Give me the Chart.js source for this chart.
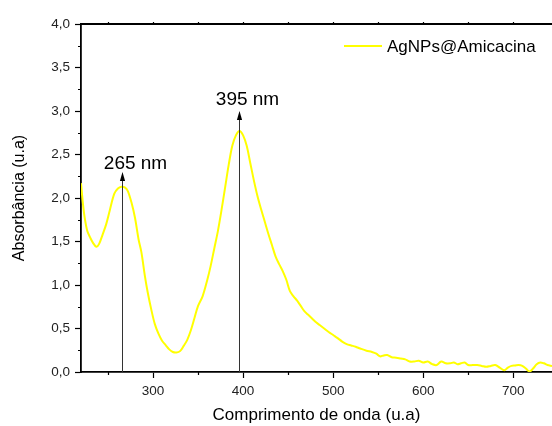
<!DOCTYPE html>
<html>
<head>
<meta charset="utf-8">
<script src="https://cdn.jsdelivr.net/npm/chart.js@4"></script>
<style>
  body { margin: 0; background: #fff; }
  #wrap { width: 552px; height: 426px; }
</style>
</head>
<body>
<div id="wrap"><canvas id="myChart" width="552" height="426"></canvas></div>
<script>
// spectrum (nm, absorbance)
const wavelengths = [220, 222, 224, 227, 230, 233, 237, 240, 244, 248, 252, 257, 261, 265, 269, 272, 276, 280, 284, 287,
  291, 294, 298, 302, 306, 310, 314, 318, 322, 326, 330, 334, 338, 342, 346, 350, 355, 360, 364, 368,
  372, 376, 380, 384, 388, 392, 396, 400, 404, 408, 412, 416, 420, 424, 428, 432, 436, 440, 444, 448,
  452, 456, 460, 464, 468, 472, 476, 480, 485, 490, 495, 500, 505, 510, 515, 520, 525, 530, 537, 543,
  548, 552, 556, 560, 565, 570, 575, 580, 585, 590, 595, 600, 605, 610, 615, 620, 625, 630, 634, 638,
  642, 646, 650, 655, 660, 665, 670, 675, 680, 685, 690, 694, 698, 702, 706, 710, 714, 718, 722, 726,
  730, 734, 738, 743];
const absorbance = [2.17, 1.95, 1.78, 1.62, 1.55, 1.49, 1.44, 1.47, 1.58, 1.70, 1.86, 2.05, 2.11, 2.13, 2.12, 2.08, 1.95, 1.77, 1.52, 1.38,
  1.10, 0.92, 0.72, 0.55, 0.44, 0.36, 0.31, 0.26, 0.23, 0.225, 0.24, 0.30, 0.37, 0.48, 0.62, 0.76, 0.87, 1.05, 1.22, 1.42,
  1.62, 1.86, 2.12, 2.38, 2.60, 2.72, 2.77, 2.72, 2.60, 2.40, 2.20, 2.02, 1.87, 1.73, 1.59, 1.46, 1.33, 1.24, 1.16, 1.06,
  0.93, 0.87, 0.82, 0.76, 0.70, 0.66, 0.62, 0.58, 0.54, 0.50, 0.46, 0.425, 0.39, 0.35, 0.32, 0.305, 0.29, 0.27, 0.245, 0.23,
  0.21, 0.18, 0.19, 0.195, 0.17, 0.165, 0.155, 0.145, 0.12, 0.12, 0.13, 0.11, 0.12, 0.09, 0.08, 0.12, 0.10, 0.10, 0.11, 0.09,
  0.10, 0.11, 0.08, 0.08, 0.08, 0.07, 0.06, 0.07, 0.08, 0.05, 0.02, 0.05, 0.07, 0.075, 0.08, 0.07, 0.04, 0.005, 0.04, 0.09,
  0.11, 0.10, 0.08, 0.07];

const seriesName = 'AgNPs@Amicacina';
const xTicks = [300, 400, 500, 600, 700];
const xMinorTicks = [250, 350, 450, 550, 650];
const yMinorTicks = [0.25, 0.75, 1.25, 1.75, 2.25, 2.75, 3.25, 3.75];

// peak arrows
const peaks = [265, 395];
const arrowTops = [2.30, 3.0];
const peakLabels = ['265 nm', '395 nm'];

const FONT = "'Liberation Sans', Arial, sans-serif";

const extras = {
  id: 'extras',
  afterDraw(chart) {
    const { ctx, chartArea: a, scales: { x, y } } = chart;
    ctx.save();
    ctx.strokeStyle = '#000';
    ctx.lineWidth = 1.2;

    // minor ticks
    ctx.beginPath();
    xMinorTicks.forEach(v => {
      const px = Math.round(x.getPixelForValue(v)) + 0.5;
      ctx.moveTo(px, a.bottom);
      ctx.lineTo(px, a.bottom + 3);
    });
    yMinorTicks.forEach(v => {
      const py = Math.round(y.getPixelForValue(v)) + 0.5;
      ctx.moveTo(a.left, py);
      ctx.lineTo(a.left - 3, py);
    });
    // little ticks on the top frame
    xTicks.concat(xMinorTicks).forEach(v => {
      const px = Math.round(x.getPixelForValue(v)) + 0.5;
      ctx.moveTo(px, a.top);
      ctx.lineTo(px, a.top - 2);
    });
    ctx.stroke();

    // top frame
    ctx.lineWidth = 1.8;
    ctx.beginPath();
    ctx.moveTo(a.left, a.top);
    ctx.lineTo(a.right, a.top);
    ctx.stroke();

    // arrows + labels
    const labelDx = [13, 8];
    const labelDy = [-3, -6];
    peaks.forEach((p, i) => {
      const px = Math.round(x.getPixelForValue(p)) + 0.5;
      const y0 = y.getPixelForValue(0);
      const yt = y.getPixelForValue(arrowTops[i]);
      ctx.strokeStyle = '#333';
      ctx.lineWidth = 1;
      ctx.beginPath();
      ctx.moveTo(px, y0);
      ctx.lineTo(px, yt + 6);
      ctx.stroke();
      ctx.fillStyle = '#000';
      ctx.beginPath();
      ctx.moveTo(px, yt);
      ctx.lineTo(px - 2.6, yt + 9);
      ctx.lineTo(px + 2.6, yt + 9);
      ctx.closePath();
      ctx.fill();

      ctx.font = '19px ' + FONT;
      ctx.textAlign = 'center';
      ctx.textBaseline = 'alphabetic';
      ctx.fillText(peakLabels[i], px + labelDx[i], yt + labelDy[i]);
    });

    // legend
    const ly = a.top + 22;
    ctx.strokeStyle = chart.data.datasets[0].borderColor;
    ctx.lineWidth = 2;
    ctx.beginPath();
    ctx.moveTo(a.right - 208, ly);
    ctx.lineTo(a.right - 170, ly);
    ctx.stroke();
    ctx.fillStyle = '#000';
    ctx.font = '17px ' + FONT;
    ctx.textAlign = 'left';
    ctx.textBaseline = 'middle';
    ctx.fillText(chart.data.datasets[0].label, a.right - 165, ly + 1);
    ctx.restore();
  }
};

let ctx = document.getElementById('myChart').getContext('2d');

let myChart = new Chart(ctx, {
  type: 'line',
  data: {
    datasets: [{
      label: seriesName,
      data: wavelengths.map((w, i) => ({ x: w, y: absorbance[i] })),
      borderColor: '#ffff00',
      borderWidth: 2,
      pointRadius: 0,
      tension: 0.35,
      fill: false
    }]
  },
  options: {
    responsive: false,
    animation: false,
    layout: { padding: { top: 24, right: 0, left: 0, bottom: 0 } },
    plugins: {
      legend: { display: false },
      tooltip: { enabled: false }
    },
    scales: {
      x: {
        type: 'linear',
        min: 220,
        max: 743,
        afterBuildTicks: scale => { scale.ticks = xTicks.map(v => ({ value: v })); },
        afterFit: scale => { scale.height = 54; },
        border: { display: true, color: '#000', width: 1.8 },
        grid: { drawOnChartArea: false, drawTicks: true, tickLength: 6, tickWidth: 1.2, tickColor: '#000' },
        ticks: { color: '#222', font: { family: FONT, size: 13.5 }, padding: 5, maxRotation: 0 },
        title: {
          display: true,
          text: 'Comprimento de onda (u.a)',
          color: '#000',
          font: { family: FONT, size: 17 },
          padding: { top: 0, bottom: 0 }
        }
      },
      y: {
        min: 0,
        max: 4,
        ticks: {
          stepSize: 0.5,
          color: '#222',
          font: { family: FONT, size: 13.5 },
          padding: 5,
          callback: v => v.toFixed(1).replace('.', ',')
        },
        afterFit: scale => { scale.width = 81; },
        border: { display: true, color: '#000', width: 1.8 },
        grid: { drawOnChartArea: false, drawTicks: true, tickLength: 6, tickWidth: 1.2, tickColor: '#000' },
        title: {
          display: true,
          text: 'Absorbância (u.a)',
          color: '#000',
          font: { family: FONT, size: 16 },
          padding: { top: 10, bottom: 10 }
        }
      }
    }
  },
  plugins: [extras]
});
</script>
</body>
</html>
